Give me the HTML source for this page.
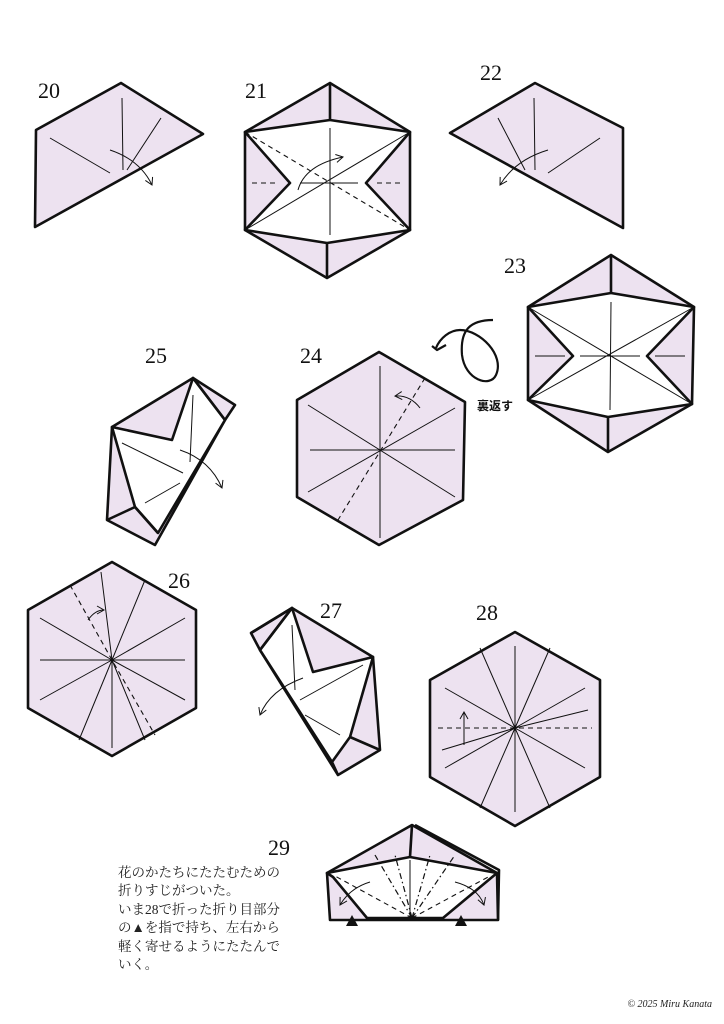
<!DOCTYPE html>
<html><head><meta charset="utf-8"><style>
html,body{margin:0;padding:0;background:#fff}
svg{display:block}
.o{fill:#ede2f0;stroke:#111;stroke-width:2.6;stroke-linejoin:round}
.w{fill:#fff;stroke:#111;stroke-width:2.6;stroke-linejoin:round}
.t{fill:none;stroke:#111;stroke-width:1}
.d{fill:none;stroke:#111;stroke-width:1.1;stroke-dasharray:5 4}
.dd{fill:none;stroke:#111;stroke-width:1.2;stroke-dasharray:6 3 1.5 3}
.b{fill:none;stroke:#111;stroke-width:2.6;stroke-linejoin:round}
.n{font-family:"Liberation Serif",serif;font-size:22px;fill:#111}
</style></head><body>
<svg width="724" height="1024" viewBox="0 0 724 1024" xmlns="http://www.w3.org/2000/svg">
<defs><marker id="ah" markerWidth="10" markerHeight="10" refX="8" refY="5" orient="auto" markerUnits="userSpaceOnUse"><path d="M1,1 L8,5 L1,9" fill="none" stroke="#111" stroke-width="1"/></marker></defs>

<!-- 20 -->
<text class="n" x="38" y="98">20</text>
<polygon class="o" points="36,130 121,83 203,134 35,227"/>
<path class="t" d="M122,98 L123,170 M50,138 L110,173 M161,118 L127,170"/>
<path class="t" d="M110,150 Q140,160 152,185" marker-end="url(#ah)"/>

<!-- 21 -->
<text class="n" x="245" y="98">21</text>
<polygon class="o" points="330,83 410,132 410,230 327,278 245,230 245,132"/>
<polygon class="w" points="245,132 330,120 410,132 366,183 410,230 327,243 245,230 290,183"/>
<path class="b" d="M330,83 L330,120 M327,243 L327,278"/>
<path class="t" d="M245,230 L410,132 M330,128 L330,235 M300,183 L358,183"/>
<path class="d" d="M245,132 L410,230 M252,183 L276,183 M377,183 L403,183"/>
<path class="t" d="M298,190 Q305,165 343,157" marker-end="url(#ah)"/>

<!-- 22 -->
<text class="n" x="480" y="80">22</text>
<polygon class="o" points="450,133 535,83 623,128 623,228"/>
<path class="t" d="M534,98 L535,170 M600,138 L548,173 M498,118 L525,170"/>
<path class="t" d="M548,150 Q515,160 500,185" marker-end="url(#ah)"/>

<!-- 23 -->
<text class="n" x="504" y="273">23</text>
<polygon class="o" points="611,255 694,307 692,404 608,452 528,400 528,307"/>
<polygon class="w" points="528,307 611,293 694,307 647,356 692,404 608,417 528,400 573,356"/>
<path class="b" d="M611,255 L611,293 M608,417 L608,452"/>
<path class="t" d="M528,307 L692,404 M528,400 L694,307 M611,302 L610,410 M580,356 L640,356 M535,356 L565,356 M655,356 L685,356"/>
<path class="b" style="stroke-width:2.2" d="M493,320 C470,320 460,330 462,355 C465,380 490,388 496,375 C505,355 480,330 460,330 C450,330 440,338 436,348"/>
<path class="b" style="stroke-width:2.2" d="M432,346 L437,350 L446,345"/>
<text x="477" y="410" font-family="Liberation Sans,'Noto Sans CJK JP',sans-serif" font-size="12" font-weight="bold" fill="#111">裏返す</text>

<!-- 24 -->
<text class="n" x="300" y="363">24</text>
<polygon class="o" points="379,352 465,402 463,500 379,545 297,497 297,400"/>
<path class="t" d="M380,366 L380,538 M310,450 L455,450 M308,405 L455,497 M308,492 L455,408"/>
<path class="d" d="M425,378 L338,520"/>
<path class="t" d="M420,408 Q410,395 395,396" marker-end="url(#ah)"/>

<!-- 25 -->
<text class="n" x="145" y="363">25</text>
<polygon class="o" points="193,378 235,405 225,420 155,545 107,520 112,427"/>
<polygon class="w" points="112,427 172,440 193,378 225,420 158,533 135,507"/>
<path class="b" d="M107,520 L135,507 L158,533 M193,378 L225,420"/>
<path class="t" d="M193,395 L190,462 M122,443 L183,473 M145,503 L180,483"/>
<path class="t" d="M180,450 Q210,460 222,488" marker-end="url(#ah)"/>

<!-- 26 -->
<text class="n" x="168" y="588">26</text>
<polygon class="o" points="112,562 196,610 196,708 112,756 28,708 28,610"/>
<path class="t" d="M112,660 L112,748 M112,660 L185,660 M112,660 L40,660 M112,660 L185,618 M112,660 L185,700 M112,660 L40,700 M112,660 L40,618 M112,660 L145,580 M112,660 L79,740 M112,660 L145,740 M112,660 L101,572"/>
<path class="d" d="M70,585 L112,660 L155,735"/>
<path class="t" d="M88,620 Q95,610 104,610" marker-end="url(#ah)"/>

<!-- 27 -->
<text class="n" x="320" y="618">27</text>
<polygon class="o" points="292,608 373,657 380,750 338,775 260,650 251,633"/>
<polygon class="w" points="292,608 313,672 373,657 350,737 332,762 260,650"/>
<path class="b" d="M251,633 L292,608 L260,650 M350,737 L380,750 M332,762 L338,775"/>
<path class="t" d="M292,625 L295,690 M300,700 L363,665 M305,715 L340,735"/>
<path class="t" d="M303,678 Q270,690 260,715" marker-end="url(#ah)"/>

<!-- 28 -->
<text class="n" x="476" y="620">28</text>
<polygon class="o" points="515,632 600,680 600,777 515,826 430,777 430,680"/>
<path class="t" d="M515,728 L515,646 M515,728 L515,812 M515,728 L585,688 M515,728 L585,768 M515,728 L445,688 M515,728 L445,768 M515,728 L550,648 M515,728 L480,648 M515,728 L550,808 M515,728 L480,808 M515,728 L588,710 M515,728 L442,750"/>
<path class="d" d="M438,728 L592,728"/>
<path class="t" d="M464,745 L464,712" marker-end="url(#ah)"/>

<!-- 29 -->
<text class="n" x="268" y="855">29</text>
<path class="b" d="M415,825 L499,870 L498,920"/>
<polygon class="o" points="412,825 497,873 498,920 330,920 327,873"/>
<polygon class="w" points="327,873 410,857 497,873 443,918 367,918 333,877"/>
<path class="b" d="M412,825 L410,857"/>
<path class="dd" d="M412,918 L375,855 M412,918 L395,855 M412,918 L430,855 M412,918 L455,855"/>
<path class="t" d="M410,918 L410,860"/>
<path class="d" d="M412,918 L335,876 M412,918 L490,876"/>
<path class="t" d="M370,882 Q350,888 340,905" marker-end="url(#ah)"/>
<path class="t" d="M455,882 Q478,888 484,905" marker-end="url(#ah)"/>
<polygon points="352,915 346,926 358,926" fill="#111"/>
<polygon points="461,915 455,926 467,926" fill="#111"/>
<text font-family="'Liberation Serif','Noto Serif CJK SC',serif" font-size="13.5" fill="#222">
<tspan x="118" y="877">花のかたちにたたむための</tspan>
<tspan x="118" y="895">折りすじがついた。</tspan>
<tspan x="118" y="914">いま28で折った折り目部分</tspan>
<tspan x="118" y="932">の▲を指で持ち、左右から</tspan>
<tspan x="118" y="951">軽く寄せるようにたたんで</tspan>
<tspan x="118" y="969">いく。</tspan>
</text>
<text x="712" y="1007" text-anchor="end" font-family="Liberation Serif,serif" font-size="10" font-style="italic" fill="#222">© 2025 Miru Kanata</text>
</svg>
</body></html>
